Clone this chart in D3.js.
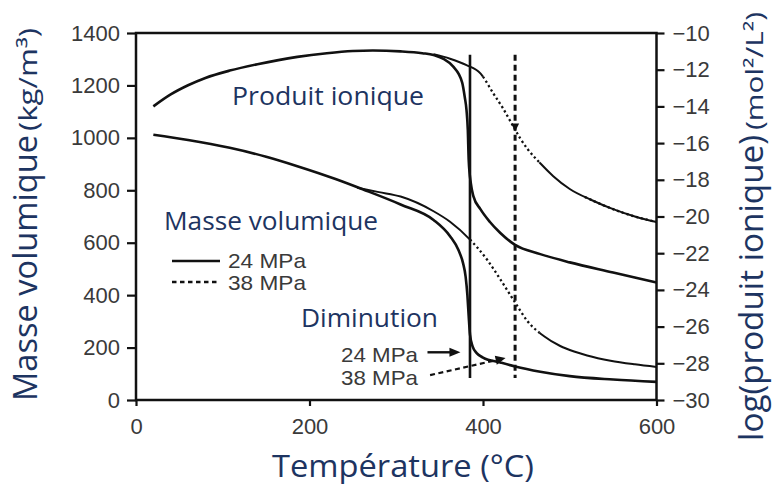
<!DOCTYPE html>
<html><head><meta charset="utf-8">
<script src="https://cdn.jsdelivr.net/npm/d3@7"></script>
<style>body{margin:0;background:#fff}svg{display:block}</style>
</head><body>
<svg id="c" width="774" height="486"></svg>
<script>
// ---- data (temperature in °C) ----
const xTicks = [0, 200, 400, 600];
const yLeftTicks = [0, 200, 400, 600, 800, 1000, 1200, 1400];
const yRightTicks = [-10, -12, -14, -16, -18, -20, -22, -24, -26, -28, -30];

// Masse volumique (kg/m3), 24 MPa
const dens24T = [20, 60, 108, 150, 186, 230, 262, 305, 343, 362, 372, 377, 380, 382, 383.5, 385, 388, 393, 400, 420, 437, 466, 500, 550, 600];
const dens24V = [1012, 992, 962, 928, 892, 843, 803, 746, 687, 625, 570, 522, 470, 400, 320, 250, 205, 178, 162, 143, 128, 108, 91, 78, 69];
// Masse volumique, 38 MPa (branch after splitting from 24 MPa)
const dens38T = [255, 280, 305, 343, 362, 385, 405, 420, 437, 451, 470, 489, 505, 520, 547, 575, 600];
const dens38V = [810, 793, 776, 720, 680, 612, 534, 460, 372, 302, 244, 206, 185, 170, 150, 136, 126];
const dens38Dotted = [385, 465];

// log(produit ionique), 24 MPa
const ion24T = [20, 40, 60, 80, 108, 140, 186, 220, 250, 273, 305, 330, 343, 366, 376, 379, 381, 382.5, 383.5, 386, 389, 397, 408, 420, 437, 466, 500, 550, 600];
const ion24V = [-14.0, -13.35, -12.85, -12.45, -12.05, -11.7, -11.3, -11.1, -10.98, -10.95, -11.0, -11.1, -11.2, -11.85, -12.7, -13.5, -14.2, -15.3, -16.9, -18.2, -18.9, -19.6, -20.3, -20.9, -21.55, -22.05, -22.5, -23.05, -23.6];
// log(produit ionique), 38 MPa (branch)
const ion38T = [343, 362, 381, 397, 412, 423, 435, 443, 451, 466, 481, 500, 525, 550, 575, 600];
const ion38V = [-11.15, -11.4, -11.75, -12.2, -13.3, -14.1, -15.1, -15.75, -16.3, -17.1, -17.8, -18.5, -19.1, -19.6, -20.0, -20.3];
const ion38Dotted = [400, 465];

// transition markers
const trans24T = 385, trans38T = 437;
const transRange = [84, 1317];
const ion38Marker = -15.2;

// ---- drawing ----
const svg = d3.select("#c");
const x = d3.scaleLinear().domain([0, 600]).range([136, 656.5]);
const yL = d3.scaleLinear().domain([0, 1400]).range([400, 33]);
const yR = d3.scaleLinear().domain([-30, -10]).range([400, 33]);

const navy = "#1d3461";
const tickCol = "#3a3a3a";

const zip = (T, V) => T.map((t, i) => ({t, v: V[i]}));
function drawSeries(pts, ys, opts) {
  const ln = d3.line().x(d => x(d.t)).y(d => ys(d.v)).curve(d3.curveMonotoneX);
  svg.append("path").attr("d", ln(pts)).attr("fill", "none")
    .attr("stroke", "#111").attr("stroke-width", opts.w || 2.4);
}
function drawBranch(T, V, ys, dotted) {
  const pts = zip(T, V);
  const line = d3.line().x(d => x(d.t)).y(d => ys(d.v)).curve(d3.curveMonotoneX);
  const full = svg.append("path").attr("d", line(pts)).attr("fill", "none").attr("stroke", "none");
  const node = full.node();
  const L = node.getTotalLength();
  function lenAt(px) {
    let lo = 0, hi = L;
    for (let i = 0; i < 40; i++) { const m = (lo + hi) / 2; if (node.getPointAtLength(m).x < px) lo = m; else hi = m; }
    return lo;
  }
  const a = lenAt(x(dotted[0])), b = lenAt(x(dotted[1]));
  full.remove();
  svg.append("path").attr("d", line(pts)).attr("fill", "none").attr("stroke", "#111").attr("stroke-width", 2)
    .attr("stroke-dasharray", `${a} ${L}`);
  const dots = [0, a];
  const on = 2.2, off = 2.8;
  for (let s = a; s < b; s += on + off) dots.push(Math.min(on, b - s), off);
  svg.append("path").attr("d", line(pts)).attr("fill", "none").attr("stroke", "#111").attr("stroke-width", 2.3)
    .attr("stroke-dasharray", dots.join(" "));
  svg.append("path").attr("d", line(pts)).attr("fill", "none").attr("stroke", "#111").attr("stroke-width", 2)
    .attr("stroke-dasharray", `0 ${b} ${L} 0`);
}

// main curves
drawSeries(zip(ion24T, ion24V), yR, {w: 2.6});
drawBranch(ion38T, ion38V, yR, ion38Dotted);
drawSeries(zip(dens24T, dens24V), yL, {w: 2.6});
drawBranch(dens38T, dens38V, yL, dens38Dotted);

// transition lines
svg.append("line").attr("x1", x(trans24T)).attr("x2", x(trans24T))
  .attr("y1", yL(transRange[1])).attr("y2", yL(transRange[0]))
  .attr("stroke", "#111").attr("stroke-width", 2.6);
svg.append("line").attr("x1", x(trans38T)).attr("x2", x(trans38T))
  .attr("y1", yL(transRange[1])).attr("y2", yL(transRange[0]))
  .attr("stroke", "#111").attr("stroke-width", 3).attr("stroke-dasharray", "6 4");
// small marker where the 38 MPa ionic curve meets its transition line
svg.append("path").attr("transform", `translate(${x(trans38T)},${yR(ion38Marker)})`)
  .attr("d", "M-4,-5L4,-5L0,3Z").attr("fill", "#111");

// plot frame
svg.append("rect").attr("x", x(0)).attr("y", yL(1400)).attr("width", x(600) - x(0)).attr("height", yL(0) - yL(1400))
  .attr("fill", "none").attr("stroke", "#111").attr("stroke-width", 2.5);

// axes
function styleAxis(g) {
  g.select(".domain").remove();
  g.selectAll(".tick line").attr("stroke", "#111").attr("stroke-width", 2.2);
  g.selectAll(".tick text").attr("fill", tickCol).attr("font-family", "Liberation Sans, Arial, sans-serif").attr("font-size", 22);
}
svg.append("g").attr("transform", `translate(0,${yL(0)})`)
  .call(d3.axisBottom(x).tickValues(xTicks).tickSize(6).tickPadding(12).tickFormat(d3.format("d")))
  .call(styleAxis);
svg.append("g").attr("transform", `translate(${x(0)},0)`)
  .call(d3.axisLeft(yL).tickValues(yLeftTicks).tickSize(9).tickPadding(7).tickFormat(d3.format("d")))
  .call(styleAxis);
svg.append("g").attr("transform", `translate(${x(600)},0)`)
  .call(d3.axisRight(yR).tickValues(yRightTicks).tickSize(8).tickPadding(8).tickFormat(d => "\u2212" + Math.abs(d)))
  .call(styleAxis);

// axis titles
const titleFont = "Open Sans, Noto Sans, sans-serif";
function addText(txt, xx, yy, size, opts = {}) {
  const t = svg.append("text").attr("x", xx).attr("y", yy).text(txt)
    .attr("font-family", opts.font || titleFont).attr("font-size", size).attr("fill", opts.fill || navy);
  if (opts.len) t.attr("textLength", opts.len).attr("lengthAdjust", "spacingAndGlyphs");
  if (opts.rot !== undefined) t.attr("transform", `rotate(${opts.rot},${xx},${yy})`);
  return t;
}
addText("Température (°C)", 272, 477, 31, {len: 262});
addText("Masse volumique", 37, 401, 33, {rot: -90, len: 266});
addText("(kg/m³)", 37, 131, 25, {rot: -90, len: 103});
addText("log(produit ionique)", 763, 441, 33, {rot: -90, len: 306});
addText("(mol²/L²)", 763, 130, 24, {rot: -90, len: 118});

// in-plot labels
addText("Produit ionique", 232, 105, 25, {len: 192});
addText("Masse volumique", 164, 230, 25, {len: 214});
addText("Diminution", 301, 327, 25, {len: 137});

// legend
const lab = {font: "Liberation Sans, Arial, sans-serif", fill: tickCol};
svg.append("line").attr("x1", 172).attr("x2", 220).attr("y1", 261).attr("y2", 261).attr("stroke", "#111").attr("stroke-width", 2.6);
svg.append("line").attr("x1", 172).attr("x2", 220).attr("y1", 282).attr("y2", 282).attr("stroke", "#111").attr("stroke-width", 2.6).attr("stroke-dasharray", "4.5 3.5");
addText("24 MPa", 228, 268, 21, Object.assign({len: 78}, lab));
addText("38 MPa", 228, 290, 21, Object.assign({len: 78}, lab));

// transition annotations
addText("24 MPa", 341, 362, 21, Object.assign({len: 77}, lab));
addText("38 MPa", 341, 385, 21, Object.assign({len: 77}, lab));
const arr24 = {t0: 336, t1: 374, v: 182};
const arr38 = {t0: 339, v0: 95, t1: 426, v1: 160};
svg.append("line").attr("x1", x(arr24.t0)).attr("x2", x(arr24.t1) - 8).attr("y1", yL(arr24.v)).attr("y2", yL(arr24.v))
  .attr("stroke", "#111").attr("stroke-width", 2.4);
svg.append("path").attr("d", d3.line()([[x(arr24.t1), yL(arr24.v)], [x(arr24.t1) - 11, yL(arr24.v) - 4.5], [x(arr24.t1) - 11, yL(arr24.v) + 4.5]]) + "Z")
  .attr("fill", "#111");
const ax0 = x(arr38.t0), ay0 = yL(arr38.v0), ax1 = x(arr38.t1), ay1 = yL(arr38.v1);
const ang = Math.atan2(ay1 - ay0, ax1 - ax0);
svg.append("line").attr("x1", ax0).attr("y1", ay0).attr("x2", ax1 - 8 * Math.cos(ang)).attr("y2", ay1 - 8 * Math.sin(ang))
  .attr("stroke", "#111").attr("stroke-width", 2.2).attr("stroke-dasharray", "5 3.5");
svg.append("path").attr("transform", `translate(${ax1},${ay1}) rotate(${ang * 180 / Math.PI})`)
  .attr("d", "M0,0L-10,-4.5L-10,4.5Z").attr("fill", "#111");
</script>
</body></html>
